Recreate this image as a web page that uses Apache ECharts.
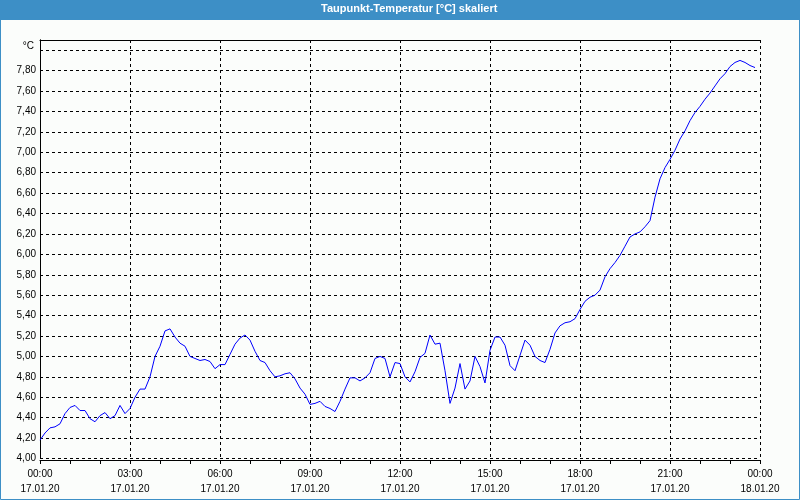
<!DOCTYPE html>
<html>
<head>
<meta charset="utf-8">
<script src="https://cdn.jsdelivr.net/npm/echarts@6/dist/echarts.min.js"></script>
<style>
html,body{margin:0;padding:0;background:#fbfdfb;}
#chart{width:800px;height:500px;}
</style>
</head>
<body>
<div id="chart"></div>
<script>
// ---- data ----
const chartTitle = 'Taupunkt-Temperatur [°C] skaliert';
const unitLabel = '°C';
const stepMinutes = 10; // one reading every 10 minutes, starting 17.01.20 00:00
const values = [
  4.18, 4.25, 4.30, 4.31, 4.34, 4.44, // 00:00
  4.50, 4.52, 4.47, 4.47, 4.39, 4.36, // 01:00
  4.42, 4.45, 4.39, 4.42, 4.52, 4.44, // 02:00
  4.49, 4.60, 4.68, 4.68, 4.80, 5.00, // 03:00
  5.10, 5.25, 5.27, 5.19, 5.13, 5.10, // 04:00
  5.00, 4.98, 4.96, 4.97, 4.95, 4.88, // 05:00
  4.92, 4.92, 5.02, 5.12, 5.18, 5.21, // 06:00
  5.16, 5.05, 4.96, 4.94, 4.86, 4.80, // 07:00
  4.81, 4.83, 4.84, 4.78, 4.69, 4.63, // 08:00
  4.53, 4.54, 4.56, 4.51, 4.49, 4.46, // 09:00
  4.56, 4.68, 4.79, 4.79, 4.76, 4.79, // 10:00
  4.84, 4.98, 5.00, 4.98, 4.80, 4.94, // 11:00
  4.93, 4.80, 4.75, 4.85, 4.99, 5.03, // 12:00
  5.21, 5.12, 5.13, 4.86, 4.54, 4.69, // 13:00
  4.93, 4.68, 4.76, 5.00, 4.90, 4.74, // 14:00
  5.06, 5.19, 5.19, 5.11, 4.91, 4.86, // 15:00
  5.01, 5.16, 5.11, 5.00, 4.96, 4.94, // 16:00
  5.07, 5.23, 5.30, 5.33, 5.34, 5.37, // 17:00
  5.46, 5.54, 5.58, 5.60, 5.65, 5.78, // 18:00
  5.86, 5.92, 5.99, 6.08, 6.17, 6.20, // 19:00
  6.22, 6.27, 6.33, 6.56, 6.74, 6.85, // 20:00
  6.93, 7.02, 7.13, 7.21, 7.31, 7.39, // 21:00
  7.45, 7.52, 7.58, 7.65, 7.72, 7.77, // 22:00
  7.84, 7.88, 7.90, 7.88, 7.85, 7.83  // 23:00
];
const xTickLabels = [
  '00:00\n17.01.20', '03:00\n17.01.20', '06:00\n17.01.20', '09:00\n17.01.20',
  '12:00\n17.01.20', '15:00\n17.01.20', '18:00\n17.01.20', '21:00\n17.01.20',
  '00:00\n18.01.20'
];
const yTickLabels = [
  '4,00', '4,20', '4,40', '4,60', '4,80', '5,00', '5,20', '5,40', '5,60', '5,80',
  '6,00', '6,20', '6,40', '6,60', '6,80', '7,00', '7,20', '7,40', '7,60', '7,80'
];

// ---- chart ----
const FONT = '"Liberation Sans", Arial, sans-serif';
const seriesData = values.map((v, i) => [i * stepMinutes, v]);
const frameLine = {show: true, lineStyle: {color: '#000', width: 1}};
const chart = echarts.init(document.getElementById('chart'), null, {renderer: 'canvas'});
chart.setOption({
  animation: false,
  backgroundColor: '#fbfdfb',
  graphic: [
    {type: 'rect', left: 0, top: 0, shape: {width: 800, height: 20}, style: {fill: '#3d8fc6'}, z: 0},
    {type: 'rect', shape: {x: 0.5, y: 0.5, width: 799, height: 499}, style: {fill: 'none', stroke: '#3d8fc6', lineWidth: 1}, z: 0}
  ],
  title: {
    text: chartTitle,
    left: 321,
    top: 3,
    padding: 0,
    textStyle: {color: '#ffffff', fontSize: 11, fontWeight: 'bold', fontFamily: FONT}
  },
  grid: {left: 40, right: 40, top: 40, bottom: 41.5, show: false, containLabel: false},
  xAxis: [{
    type: 'value',
    position: 'bottom',
    offset: 1.5,
    min: 0,
    max: 1440,
    interval: 180,
    axisLine: frameLine,
    axisTick: {show: true, length: 4, lineStyle: {color: '#000'}},
    minorTick: {show: true, splitNumber: 3, length: 4, lineStyle: {color: '#000'}},
    splitLine: {show: true, lineStyle: {color: '#000', type: [3, 3], width: 1}},
    axisLabel: {
      color: '#000', fontSize: 10, fontFamily: FONT, lineHeight: 15, margin: 7,
      formatter: v => xTickLabels[Math.round(v / 180)] || ''
    }
  }, {
    type: 'value',
    position: 'top',
    min: 0,
    max: 1440,
    axisLine: frameLine,
    axisTick: {show: false},
    axisLabel: {show: false},
    splitLine: {show: false}
  }],
  yAxis: [{
    type: 'value',
    position: 'left',
    min: 4,
    max: 8.1,
    interval: 0.2,
    name: unitLabel,
    nameLocation: 'end',
    nameGap: -6,
    nameTextStyle: {color: '#000', fontSize: 10, fontFamily: FONT, align: 'right', verticalAlign: 'middle', padding: [0, 6, 0, 0]},
    axisLine: frameLine,
    axisTick: {show: false},
    splitLine: {show: true, lineStyle: {color: '#000', type: [3, 3], width: 1}},
    axisLabel: {
      color: '#000', fontSize: 10, fontFamily: FONT, margin: 4, showMaxLabel: false,
      formatter: v => {
        const idx = Math.round((v - 4) / 0.2);
        if (Math.abs(v - (4 + idx * 0.2)) > 1e-6) return '';
        return yTickLabels[idx] || '';
      }
    }
  }, {
    type: 'value',
    position: 'right',
    min: 4,
    max: 8.1,
    axisLine: frameLine,
    axisTick: {show: false},
    axisLabel: {show: false},
    splitLine: {show: false}
  }],
  series: [{
    type: 'line',
    xAxisIndex: 0,
    yAxisIndex: 0,
    data: seriesData,
    showSymbol: false,
    symbol: 'none',
    lineStyle: {color: '#0000ff', width: 1},
    z: 5
  }]
});
</script>
</body>
</html>
